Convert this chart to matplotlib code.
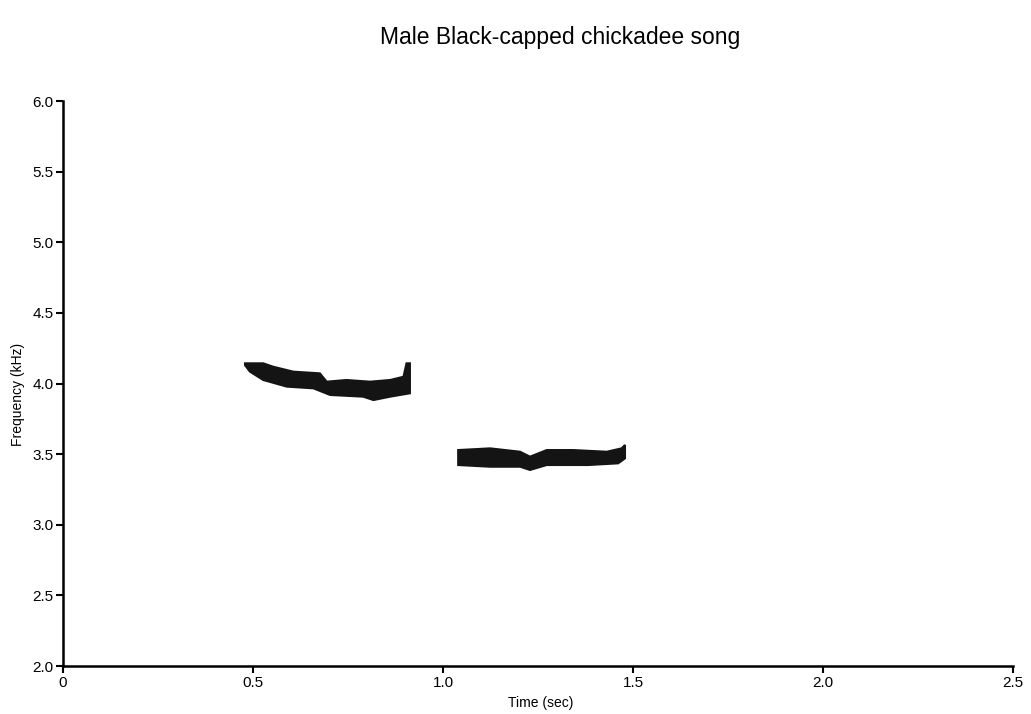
import matplotlib
matplotlib.use("Agg")
import matplotlib.pyplot as plt

plt.rcParams['font.family'] = ['Liberation Sans', 'DejaVu Sans']

# Note 1 (higher "fee" note)
note1_t_upper = [0.479, 0.527, 0.553, 0.606, 0.676, 0.694, 0.746, 0.808, 0.861, 0.896, 0.904, 0.913]
note1_f_upper = [4.143, 4.143, 4.119, 4.084, 4.072, 4.013, 4.025, 4.013, 4.025, 4.048, 4.143, 4.143]
note1_t_lower = [0.479, 0.492, 0.527, 0.589, 0.659, 0.703, 0.790, 0.817, 0.861, 0.913]
note1_f_lower = [4.130, 4.084, 4.025, 3.978, 3.966, 3.919, 3.907, 3.883, 3.907, 3.931]

# Note 2 (lower "bee" note)
note2_t_upper = [1.040, 1.124, 1.203, 1.229, 1.273, 1.343, 1.431, 1.470, 1.479]
note2_f_upper = [3.529, 3.541, 3.517, 3.482, 3.529, 3.529, 3.517, 3.541, 3.565]
note2_t_lower = [1.040, 1.124, 1.203, 1.229, 1.273, 1.382, 1.461, 1.479]
note2_f_lower = [3.423, 3.411, 3.411, 3.388, 3.423, 3.423, 3.435, 3.470]

x_ticks = [0.0, 0.5, 1.0, 1.5, 2.0, 2.5]
x_labels = ["0", "0.5", "1.0", "1.5", "2.0", "2.5"]
y_ticks = [2.0, 2.5, 3.0, 3.5, 4.0, 4.5, 5.0, 5.5, 6.0]
y_labels = ["2.0", "2.5", "3.0", "3.5", "4.0", "4.5", "5.0", "5.5", "6.0"]

fig = plt.figure(figsize=(10.31, 7.14), dpi=100)
ax = fig.add_axes([0.0611, 0.0672, 0.9214, 0.7913])

def band(tu, fu, tl, fl):
    xs = list(tu) + list(tl)[::-1]
    ys = list(fu) + list(fl)[::-1]
    ax.fill(xs, ys, color="#141414", lw=1.5, edgecolor="#141414")

band(note1_t_upper, note1_f_upper, note1_t_lower, note1_f_lower)
band(note2_t_upper, note2_f_upper, note2_t_lower, note2_f_lower)

ax.set_xlim(0, 2.5)
ax.set_ylim(2.0, 6.0)
ax.set_xticks(x_ticks)
ax.set_xticklabels(x_labels)
ax.set_yticks(y_ticks)
ax.set_yticklabels(y_labels)
for s in ["top", "right"]:
    ax.spines[s].set_visible(False)
for s in ["left", "bottom"]:
    ax.spines[s].set_linewidth(1.8)
    ax.spines[s].set_color("black")
ax.tick_params(axis="both", direction="out", length=5, width=1.5, labelsize=11, pad=2)

fig.text(0.543, 0.947, "Male Black-capped chickadee song", ha="center", va="center", fontsize=16.5)
fig.text(0.524, 0.0154, "Time (sec)", ha="center", va="center", fontsize=10)
fig.text(0.0175, 0.447, "Frequency (kHz)", ha="center", va="center", rotation=90, fontsize=10)

fig.savefig("out.png", dpi=100, facecolor="white")
